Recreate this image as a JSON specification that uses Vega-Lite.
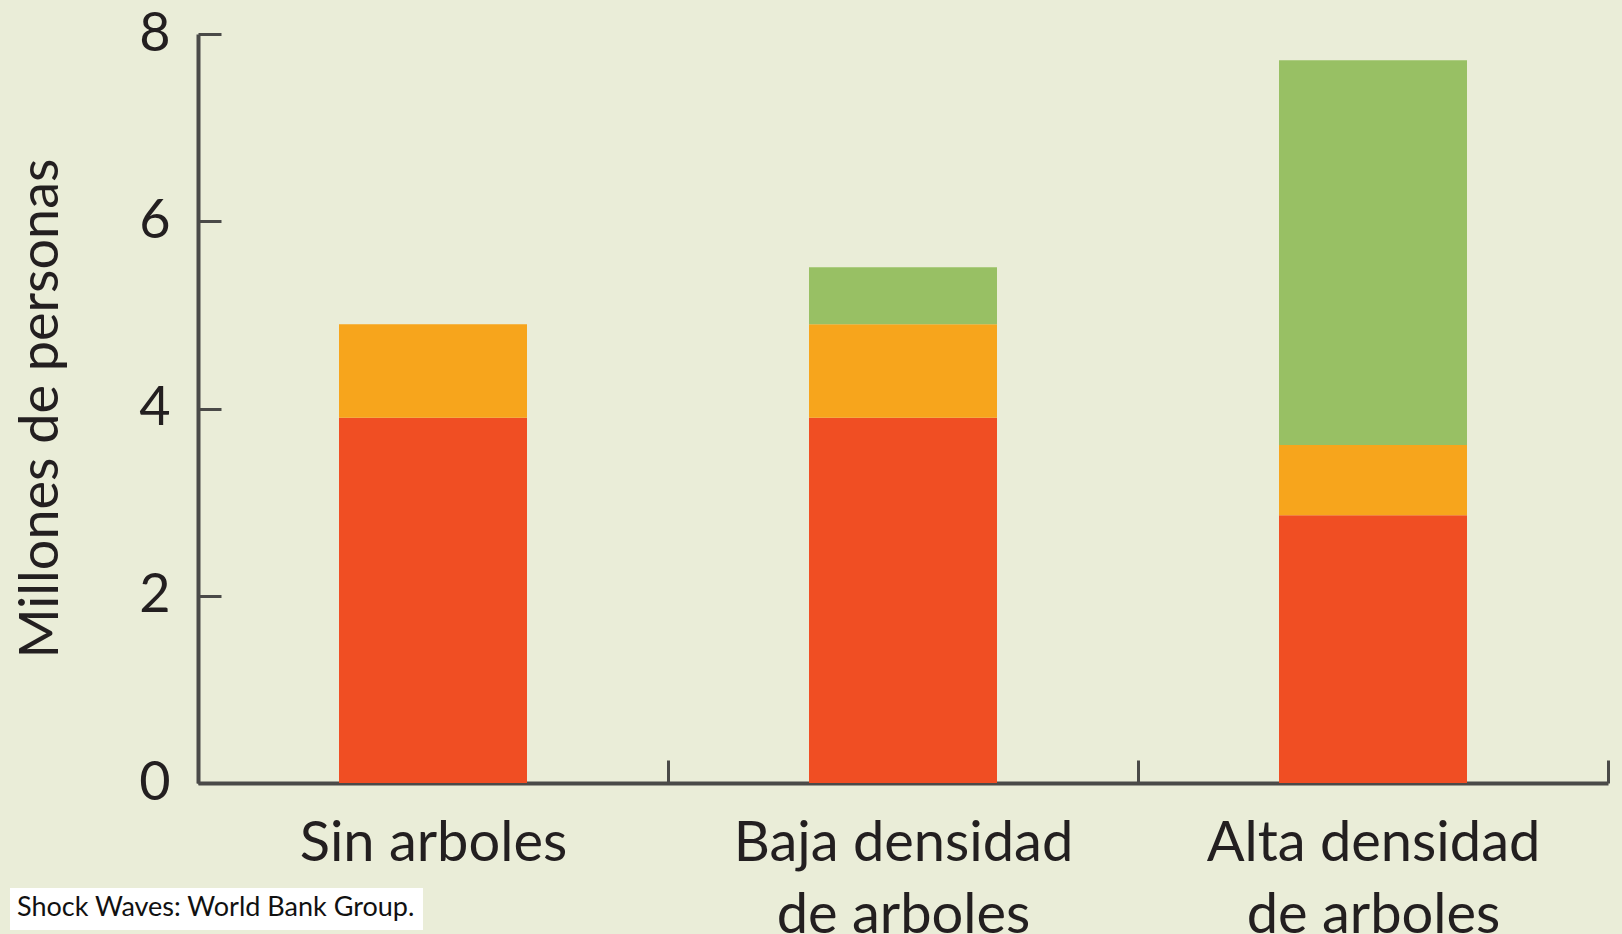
{
  "$schema": "https://vega.github.io/schema/vega-lite/v6.json",
  "width": 1410,
  "height": 749,
  "autosize": {"type": "none"},
  "padding": {"left": 198, "top": 34, "right": 14, "bottom": 151},
  "background": "#EAEDD8",
  "config": {"view": {"stroke": null}, "font": "Lato"},
  "data": {
    "values": [
      {"densidad": "Sin arboles", "componente": "Rojo", "nivel": 1, "valor": 3.9},
      {"densidad": "Sin arboles", "componente": "Naranja", "nivel": 2, "valor": 1.0},
      {"densidad": "Baja densidad de arboles", "componente": "Rojo", "nivel": 1, "valor": 3.9},
      {"densidad": "Baja densidad de arboles", "componente": "Naranja", "nivel": 2, "valor": 1.0},
      {"densidad": "Baja densidad de arboles", "componente": "Verde", "nivel": 3, "valor": 0.61},
      {"densidad": "Alta densidad de arboles", "componente": "Rojo", "nivel": 1, "valor": 2.86},
      {"densidad": "Alta densidad de arboles", "componente": "Naranja", "nivel": 2, "valor": 0.75},
      {"densidad": "Alta densidad de arboles", "componente": "Verde", "nivel": 3, "valor": 4.11}
    ]
  },
  "layer": [
    {
      "mark": {"type": "bar", "width": {"band": 0.4}},
      "encoding": {
        "x": {
          "field": "densidad",
          "type": "nominal",
          "sort": ["Sin arboles", "Baja densidad de arboles", "Alta densidad de arboles"],
          "scale": {"paddingInner": 0, "paddingOuter": 0},
          "axis": {
            "title": null,
            "tickBand": "extent",
            "tickSize": -23,
            "tickWidth": 3,
            "tickColor": "#4a4a48",
            "domainColor": "#4a4a48",
            "domainWidth": 4,
            "labelAngle": 0,
            "labelFont": "Lato",
            "labelFontSize": 56,
            "labelColor": "#231F20",
            "labelPadding": 56,
            "labelLineHeight": 72,
            "labelLimit": 0,
            "labelExpr": "indexof(datum.label, ' de arboles') > 0 ? [replace(datum.label, ' de arboles', ''), 'de arboles'] : datum.label"
          }
        },
        "y": {
          "field": "valor",
          "type": "quantitative",
          "stack": "zero",
          "scale": {"domain": [0, 8], "nice": false},
          "axis": {
            "values": [0, 2, 4, 6, 8],
            "title": "Millones de personas",
            "grid": false,
            "domainColor": "#4a4a48",
            "domainWidth": 4,
            "tickColor": "#4a4a48",
            "tickWidth": 3,
            "tickSize": -23,
            "labelFont": "Lato",
            "labelFontSize": 54,
            "labelColor": "#231F20",
            "labelPadding": 51,
            "titleFont": "Lato",
            "titleFontSize": 54,
            "titleFontWeight": "normal",
            "titleColor": "#231F20",
            "titleAngle": -90,
            "titleX": -141,
            "titleY": 374,
            "titleAlign": "center",
            "titleBaseline": "alphabetic"
          }
        },
        "color": {
          "field": "componente",
          "type": "nominal",
          "scale": {"domain": ["Rojo", "Naranja", "Verde"], "range": ["#F04E23", "#F7A51C", "#98C064"]},
          "legend": null
        },
        "order": {"field": "nivel", "type": "quantitative"},
        "opacity": {
          "datum": "Shock Waves: World Bank Group.",
          "type": "ordinal",
          "scale": {"range": [1, 1]},
          "legend": {
            "title": "Shock Waves: World Bank Group.",
            "titleFont": "Lato",
            "titleFontSize": 27,
            "titleFontWeight": "normal",
            "titleColor": "#111111",
            "titleLimit": 0,
            "titlePadding": 0,
            "orient": "none",
            "legendX": -188,
            "legendY": 854,
            "fillColor": "#FFFFFF",
            "padding": 7,
            "rowPadding": 0,
            "symbolSize": 0,
            "symbolOpacity": 0,
            "symbolStrokeWidth": 0,
            "labelOffset": 0,
            "labelFontSize": 1,
            "labelExpr": "''"
          }
        }
      }
    }
  ]
}
